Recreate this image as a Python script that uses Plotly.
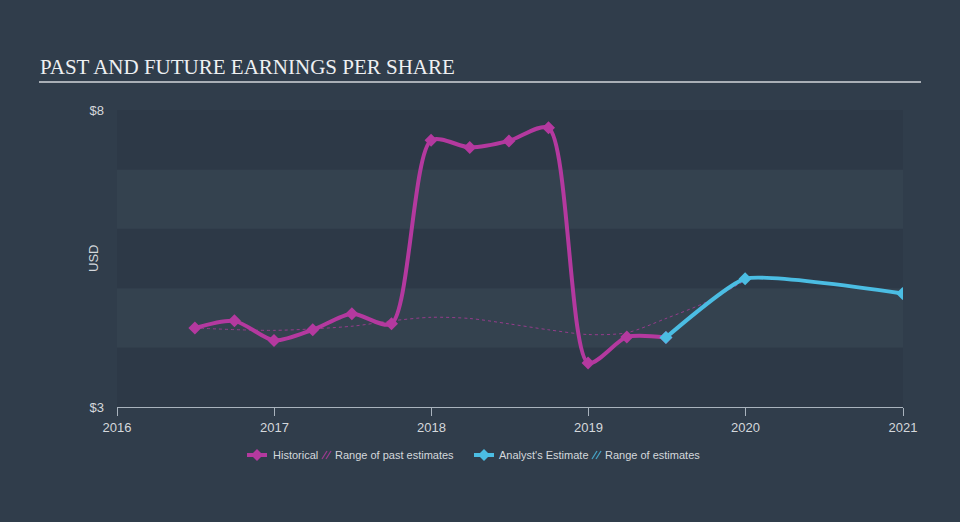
import plotly.graph_objects as go

# ---- data ----
hist_dates = ["2016-06-30", "2016-09-30", "2016-12-31", "2017-03-31", "2017-06-30",
              "2017-09-30", "2017-12-31", "2018-03-31", "2018-06-30", "2018-09-30",
              "2018-12-31", "2019-03-31", "2019-06-30"]
hist_eps = [4.33, 4.45, 4.12, 4.30, 4.57, 4.40, 7.49, 7.37, 7.48, 7.70, 3.74, 4.18, 4.17]

past_range_dates = ["2016-06-30", "2016-12-31", "2017-06-30", "2017-09-30", "2017-12-31",
                    "2018-03-31", "2018-06-30", "2018-09-30", "2018-12-31", "2019-03-31",
                    "2019-06-30", "2019-09-30", "2019-12-31"]
past_range_eps = [4.33, 4.29, 4.36, 4.45, 4.51, 4.49, 4.40, 4.30, 4.22, 4.25, 4.49, 4.76, 5.13]

est_dates = ["2019-06-30", "2019-12-31", "2020-12-31"]
est_eps = [4.17, 5.16, 4.91]

y_ticks = [3, 8]
y_tick_text = ["$3", "$8"]
x_ticks = ["2016-01-01", "2017-01-01", "2018-01-01", "2019-01-01", "2020-01-01", "2021-01-01"]
x_tick_text = ["2016", "2017", "2018", "2019", "2020", "2021"]

# ---- styling ----
BG = "#303d4b"
BAND_DARK = "#2d3947"
BAND_LIGHT = "#34424f"
MAGENTA = "#b4399f"
BLUE = "#4bbde3"
TXT = "#d4d8dc"

W, H = 960, 522
L, R, T, B = 117, 57, 110, 115
PX0, PX1 = L, W - R
PY0, PY1 = T, H - B


def px_x(px):
    return (px - PX0) / (PX1 - PX0)


def px_y(py):
    return (PY1 - py) / (PY1 - PY0)


fig = go.Figure()

fig.add_trace(go.Scatter(
    x=past_range_dates, y=past_range_eps, mode="lines",
    line=dict(color="rgba(180,57,159,0.75)", width=1, dash="dot", shape="spline", smoothing=0.8),
    hoverinfo="skip", showlegend=False))

fig.add_trace(go.Scatter(
    x=hist_dates, y=hist_eps, mode="lines+markers",
    line=dict(color=MAGENTA, width=4, shape="spline", smoothing=0.75),
    marker=dict(symbol="diamond", size=10, color=MAGENTA),
    showlegend=False, name="Historical"))

fig.add_trace(go.Scatter(
    x=est_dates, y=est_eps, mode="lines+markers",
    line=dict(color=BLUE, width=4, shape="spline", smoothing=0.45),
    marker=dict(symbol="diamond", size=10, color=BLUE),
    showlegend=False, name="Analyst's Estimate"))

shapes = []
# bands
for lo in range(3, 8):
    shapes.append(dict(type="rect", xref="paper", yref="y", x0=0, x1=1, y0=lo, y1=lo + 1,
                       fillcolor=BAND_DARK if lo % 2 == 1 else BAND_LIGHT,
                       line=dict(width=0), layer="below"))
# title underline
shapes.append(dict(type="line", xref="paper", yref="paper", x0=px_x(39), x1=px_x(921),
                   y0=px_y(82), y1=px_y(82), line=dict(color="#a9afb6", width=2)))

# legend icons
LY = 455


def diamond_icon(cx, color):
    shapes.append(dict(type="line", xref="paper", yref="paper", x0=px_x(cx - 10), x1=px_x(cx + 10),
                       y0=px_y(LY), y1=px_y(LY), line=dict(color=color, width=4)))
    pts = [(cx, LY - 6), (cx + 6, LY), (cx, LY + 6), (cx - 6, LY)]
    path = "M " + " L ".join(f"{px_x(a)},{px_y(b)}" for a, b in pts) + " Z"
    shapes.append(dict(type="path", xref="paper", yref="paper", path=path,
                       fillcolor=color, line=dict(width=0)))


def hatch_icon(x0, color):
    for dx in (0, 4):
        shapes.append(dict(type="line", xref="paper", yref="paper",
                           x0=px_x(x0 + dx), x1=px_x(x0 + dx + 5),
                           y0=px_y(LY + 4), y1=px_y(LY - 4),
                           line=dict(color=color, width=1.3)))


diamond_icon(257, MAGENTA)
hatch_icon(322, "rgba(180,57,159,0.8)")
diamond_icon(484, BLUE)
hatch_icon(592, "rgba(75,189,227,0.8)")

annotations = [
    dict(text="PAST AND FUTURE EARNINGS PER SHARE", xref="paper", yref="paper",
         x=px_x(38), y=px_y(67), xanchor="left", yanchor="middle", showarrow=False,
         font=dict(family="Liberation Serif", size=21, color="#eef0f2")),
    dict(text="USD", xref="paper", yref="paper", x=px_x(93), y=px_y(259),
         xanchor="center", yanchor="middle", textangle=-90, showarrow=False,
         font=dict(family="Liberation Sans", size=13, color=TXT)),
]
for txt, xpx in [("Historical", 271), ("Range of past estimates", 333),
                 ("Analyst's Estimate", 497), ("Range of estimates", 603)]:
    annotations.append(dict(text=txt, xref="paper", yref="paper", x=px_x(xpx), y=px_y(LY),
                            xanchor="left", yanchor="middle", showarrow=False,
                            font=dict(family="Liberation Sans", size=11, color=TXT)))

fig.update_layout(
    width=W, height=H,
    margin=dict(l=L, r=R, t=T, b=B),
    paper_bgcolor=BG, plot_bgcolor=BG,
    shapes=shapes, annotations=annotations,
    showlegend=False,
    font=dict(family="Liberation Sans", color=TXT),
    xaxis=dict(type="date", range=["2016-01-01", "2021-01-01"], tickvals=x_ticks,
               ticktext=x_tick_text, showgrid=False, zeroline=False,
               showline=True, linecolor="#a9b3bd", linewidth=1,
               ticks="outside", ticklen=8, tickcolor="#a9b3bd",
               tickfont=dict(size=13, color=TXT)),
    yaxis=dict(range=[3, 8], tickvals=y_ticks, ticktext=y_tick_text, showgrid=False,
               zeroline=False, showline=False, ticks="", ticklabelstandoff=12,
               tickfont=dict(size=13, color=TXT)),
)

fig.write_html("out.html")
